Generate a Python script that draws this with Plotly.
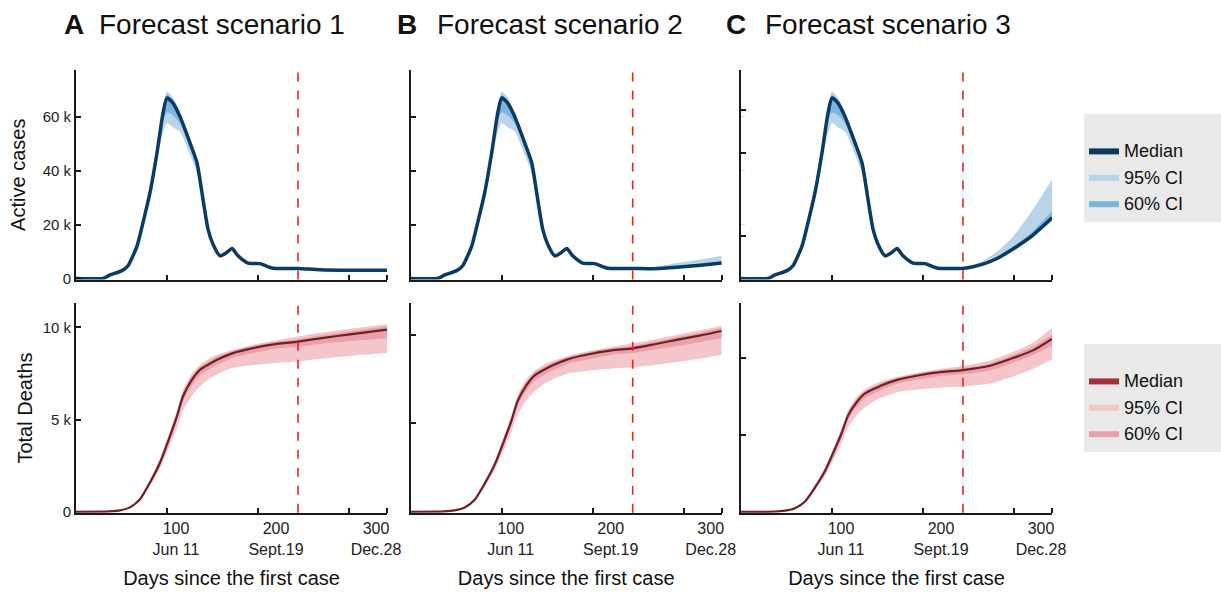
import plotly.graph_objects as go

# ------------------------------------------------------------------ data
# Active cases (thousands) - shared history up to the forecast date
days_active_hist = [0, 27, 34, 46, 52, 61, 67, 74, 81, 87, 91, 97, 104, 114, 121,
                    127, 132, 137, 144, 151, 156, 162, 172, 184, 191, 197, 210, 222]
active_med_hist = [0, 0, 1.3, 2.9, 4.7, 12, 20.7, 31.8, 46.6, 61.3, 66.9, 65, 60, 50.3, 42.9,
                   29.3, 18.3, 12.7, 8.4, 9.7, 11.1, 8.4, 5.7, 5.5, 4.5, 3.8, 3.7, 3.7]
active_lo95_hist = [0, 0, 1.2, 2.7, 4.4, 11.2, 19.5, 30, 44, 54, 57.6, 56, 54.5, 45.9, 39,
                    26.8, 16.8, 11.7, 7.7, 9.0, 10.2, 7.9, 5.4, 5.3, 4.3, 3.6, 3.5, 3.5]
active_hi95_hist = [0, 0, 1.4, 3.1, 5.0, 12.6, 21.6, 33, 48, 64, 69.3, 67, 61.5, 51.2, 43.6,
                    29.9, 18.8, 13.1, 8.8, 10.1, 11.6, 8.8, 6.0, 5.7, 4.7, 4.0, 3.9, 3.9]
active_lo60_hist = [0, 0, 1.25, 2.8, 4.6, 11.7, 20.2, 31, 45.5, 58, 61.5, 60.5, 57.5, 48.5, 41.2,
                    28.2, 17.6, 12.2, 8.1, 9.4, 10.7, 8.2, 5.6, 5.4, 4.4, 3.7, 3.6, 3.6]
active_hi60_hist = [0, 0, 1.35, 3.0, 4.85, 12.3, 21.1, 32.5, 47.2, 62.3, 68, 66, 60.8, 50.8, 43.3,
                    29.6, 18.5, 12.9, 8.6, 9.9, 11.3, 8.6, 5.8, 5.6, 4.6, 3.9, 3.8, 3.8]

# Active cases forecasts (thousands), start at the forecast date
days_active_fc = {
    1: [222, 244, 274, 311],
    2: [222, 244, 266, 290, 311],
    3: [222, 242, 256, 272, 289, 311],
}
active_med_fc = {1: [3.7, 3.2, 3.0, 3.0],
                 2: [3.7, 3.6, 4.1, 4.9, 5.7],
                 3: [3.6, 5.3, 7.4, 10.9, 15.2, 22.5]}
active_lo95_fc = {1: [3.5, 3.0, 2.7, 2.6],
                  2: [3.5, 3.4, 3.8, 4.5, 5.2],
                  3: [3.4, 5.0, 7.0, 10.3, 14.4, 21.3]}
active_hi95_fc = {1: [3.9, 3.5, 3.4, 3.5],
                  2: [3.9, 4.3, 5.7, 7.0, 8.4],
                  3: [3.8, 6.5, 10.0, 15.5, 24.0, 36.7]}
active_lo60_fc = {1: [3.6, 3.1, 2.85, 2.8],
                  2: [3.6, 3.5, 4.0, 4.7, 5.5],
                  3: [3.5, 5.2, 7.2, 10.6, 14.8, 21.8]}
active_hi60_fc = {1: [3.8, 3.35, 3.2, 3.2],
                  2: [3.8, 3.8, 4.5, 5.4, 6.3],
                  3: [3.7, 5.6, 8.0, 11.8, 16.5, 25.0]}

# Total deaths (thousands) - shared history
days_deaths_hist = [0, 34, 44, 54, 64, 74, 84, 94, 101, 107, 116, 124, 133, 141, 157, 177, 201, 222]
deaths_med_hist = [0, 0.02, 0.08, 0.24, 0.68, 1.59, 2.66, 4.1, 5.18, 6.26, 7.16, 7.7, 8.0, 8.24,
                   8.6, 8.87, 9.1, 9.22]
deaths_lo95_hist = [0, 0.02, 0.07, 0.2, 0.58, 1.4, 2.35, 3.6, 4.55, 5.5, 6.3, 6.8, 7.2, 7.45,
                    7.8, 7.95, 8.08, 8.15]
deaths_hi95_hist = [0, 0.03, 0.1, 0.28, 0.78, 1.75, 2.9, 4.4, 5.5, 6.6, 7.5, 7.97, 8.3, 8.5,
                    8.78, 9.05, 9.3, 9.5]
deaths_lo60_hist = [0, 0.02, 0.075, 0.22, 0.64, 1.5, 2.55, 3.9, 4.95, 6.0, 6.85, 7.4, 7.7, 7.95,
                    8.35, 8.6, 8.85, 8.95]
deaths_hi60_hist = [0, 0.025, 0.09, 0.26, 0.73, 1.68, 2.8, 4.28, 5.35, 6.45, 7.35, 7.85, 8.15,
                    8.4, 8.72, 9.0, 9.22, 9.35]

days_deaths_fc = {1: [222, 244, 274, 311],
                  2: [222, 244, 266, 290, 311],
                  3: [222, 249, 272, 292, 311]}
deaths_med_fc = {1: [9.22, 9.4, 9.62, 9.87],
                 2: [9.25, 9.45, 9.7, 9.95, 10.2],
                 3: [9.25, 9.5, 10.0, 10.5, 11.25]}
deaths_lo95_fc = {1: [8.15, 8.3, 8.45, 8.6],
                  2: [8.1, 8.28, 8.45, 8.65, 8.86],
                  3: [8.17, 8.35, 8.8, 9.3, 9.9]}
deaths_hi95_fc = {1: [9.5, 9.7, 9.92, 10.18],
                  2: [9.5, 9.72, 9.98, 10.25, 10.5],
                  3: [9.57, 9.85, 10.4, 11.0, 11.95]}
deaths_lo60_fc = {1: [8.95, 9.1, 9.25, 9.4],
                  2: [8.95, 9.15, 9.35, 9.58, 9.8],
                  3: [9.0, 9.2, 9.7, 10.2, 10.8]}
deaths_hi60_fc = {1: [9.35, 9.55, 9.78, 10.05],
                  2: [9.38, 9.6, 9.85, 10.12, 10.38],
                  3: [9.4, 9.65, 10.2, 10.75, 11.5]}

forecast_day = 222
x_range = [0, 311]
x_tick_vals = [100, 200, 300]
x_tick_text = ["100<br>Jun 11", "200<br>Sept.19", "300<br>Dec.28"]
x_mark_vals = [91, 182, 273, 311]

active_range = [-0.4, 77.3]
active_tick_vals = [20, 40, 60]
active_tick_text = ["20 k", "40 k", "60 k"]
active_tick_vals_c = [15.6, 46.6, 62.5]

deaths_ranges = {1: [-0.05, 11.3], 2: [-0.05, 11.76], 3: [-0.05, 13.56]}
deaths_tick_vals = [5, 10]
deaths_tick_text = ["5 k", "10 k"]

scenario_letters = ["A", "B", "C"]
scenario_titles = ["Forecast scenario 1", "Forecast scenario 2", "Forecast scenario 3"]
legend_names = ["Median", "95% CI", "60% CI"]

# ------------------------------------------------------------------ style
FONT = "Liberation Sans, Arial, sans-serif"
BLUE_MED = "#0b3a63"
BLUE_95 = "#b9d4e9"
BLUE_60 = "#7db5de"
RED_MED_LINE = "#6e1f27"
RED_MED_SWATCH = "#a3323d"
RED_95 = "#f4c5ca"
RED_60 = "#e8a1a9"

col_x = [(76, 387), (410.7, 721.7), (741, 1052)]
row_y = [(70, 279.5), (303.3, 512.7)]
letter_x = [62, 395, 724]
title_x = [97, 435, 763]
W, H = 1221, 592


def xdom(i):
    return [col_x[i][0] / W, col_x[i][1] / W]


def ydom(r):
    return [1 - row_y[r][1] / H, 1 - row_y[r][0] / H]


fig = go.Figure()


def add_panel(xa, ya, lg, xs, lo95, hi95, lo60, hi60, med, c95, c60, cmed, lw):
    common = dict(xaxis=xa, yaxis=ya, legend=lg, showlegend=False, hoverinfo="skip", mode="lines")
    fig.add_trace(go.Scatter(x=xs, y=lo95, line=dict(width=0, shape="spline", smoothing=0.6), **common))
    fig.add_trace(go.Scatter(x=xs, y=hi95, line=dict(width=0, shape="spline", smoothing=0.6),
                             fill="tonexty", fillcolor=c95, **common))
    fig.add_trace(go.Scatter(x=xs, y=lo60, line=dict(width=0, shape="spline", smoothing=0.6), **common))
    fig.add_trace(go.Scatter(x=xs, y=hi60, line=dict(width=0, shape="spline", smoothing=0.6),
                             fill="tonexty", fillcolor=c60, **common))
    fig.add_trace(go.Scatter(x=xs, y=med, line=dict(width=lw, color=cmed, shape="spline", smoothing=0.6),
                             **common))


for k, s in enumerate([1, 2, 3]):
    xs = days_active_hist + days_active_fc[s][1:]
    add_panel("x" if k == 0 else f"x{k+1}", "y" if k == 0 else f"y{k+1}", "legend", xs,
              active_lo95_hist + active_lo95_fc[s][1:], active_hi95_hist + active_hi95_fc[s][1:],
              active_lo60_hist + active_lo60_fc[s][1:], active_hi60_hist + active_hi60_fc[s][1:],
              active_med_hist + active_med_fc[s][1:], BLUE_95, BLUE_60, BLUE_MED, 3.5)
    xs = days_deaths_hist + days_deaths_fc[s][1:]
    add_panel(f"x{k+4}", f"y{k+4}", "legend2", xs,
              deaths_lo95_hist + deaths_lo95_fc[s][1:], deaths_hi95_hist + deaths_hi95_fc[s][1:],
              deaths_lo60_hist + deaths_lo60_fc[s][1:], deaths_hi60_hist + deaths_hi60_fc[s][1:],
              deaths_med_hist + deaths_med_fc[s][1:], RED_95, RED_60, RED_MED_LINE, 2.2)

PAD = "&nbsp;" * 7
# legend-only entries (filled swatches)
for name, col, rank in zip(legend_names, [BLUE_MED, BLUE_95, BLUE_60], [1, 2, 3]):
    fig.add_trace(go.Scatter(x=[None], y=[None], mode="lines", name=name + PAD, fill="toself",
                             fillcolor=col, line=dict(width=0, color=col), legend="legend",
                             legendrank=rank, xaxis="x", yaxis="y"))
for name, col, rank in zip(legend_names, [RED_MED_SWATCH, RED_95, RED_60], [1, 2, 3]):
    fig.add_trace(go.Scatter(x=[None], y=[None], mode="lines", name=name + PAD, fill="toself",
                             fillcolor=col, line=dict(width=0, color=col), legend="legend2",
                             legendrank=rank, xaxis="x4", yaxis="y4"))

axis_common = dict(showline=True, linecolor="#1a1a1a", linewidth=2, showgrid=False, zeroline=False,
                   mirror=False, automargin=False, tickfont=dict(family=FONT, size=15, color="#222"))

layout = dict(width=W, height=H, margin=dict(l=0, r=0, t=0, b=0, autoexpand=False),
              paper_bgcolor="white", plot_bgcolor="white", font=dict(family=FONT, color="#111"))

for k in range(3):
    n_top = "" if k == 0 else str(k + 1)
    n_bot = str(k + 4)
    for n, row in [(n_top, 0), (n_bot, 1)]:
        xa = dict(axis_common, domain=xdom(k), range=x_range, anchor="y" + n,
                  tickmode="array", tickvals=x_tick_vals,
                  ticktext=x_tick_text if row == 1 else ["", "", ""],
                  ticks="", tickfont=dict(family=FONT, size=16, color="#222"),
                  minor=dict(tickmode="array", tickvals=x_mark_vals, ticks="inside", ticklen=5,
                             tickwidth=2, tickcolor="#1a1a1a"))
        if row == 1:
            xa["title"] = dict(text="Days since the first case", font=dict(family=FONT, size=20, color="#111"),
                               standoff=14)
        layout["xaxis" + n] = xa
    ya = dict(axis_common, domain=ydom(0), range=active_range, anchor="x" + n_top,
              ticks="inside", ticklen=5, tickwidth=2, tickcolor="#1a1a1a")
    if k == 0:
        ya.update(tickmode="array", tickvals=[0] + active_tick_vals, ticktext=["0"] + active_tick_text,
                  showticklabels=True)
        ya["title"] = dict(text="Active cases", font=dict(family=FONT, size=20, color="#111"), standoff=12)
    elif k == 1:
        ya.update(tickmode="array", tickvals=active_tick_vals, showticklabels=False)
    else:
        ya.update(tickmode="array", tickvals=active_tick_vals_c, showticklabels=False,
                  minor=dict(tickmode="array", tickvals=active_tick_vals, ticks="inside", ticklen=4,
                             tickwidth=1, tickcolor="#dddddd"))
    layout["yaxis" + n_top] = ya
    yb = dict(axis_common, domain=ydom(1), range=deaths_ranges[k + 1], anchor="x" + n_bot,
              ticks="inside", ticklen=5, tickwidth=2, tickcolor="#1a1a1a",
              tickmode="array", tickvals=deaths_tick_vals)
    if k == 0:
        yb.update(tickvals=[0] + deaths_tick_vals, ticktext=["0"] + deaths_tick_text)
        yb["title"] = dict(text="Total Deaths", font=dict(family=FONT, size=20, color="#111"), standoff=5)
    else:
        yb.update(showticklabels=False)
    layout["yaxis" + n_bot] = yb

legend_common = dict(bgcolor="#e9e9e9", borderwidth=0, font=dict(family=FONT, size=18, color="#111"),
                     xanchor="left", yanchor="top", x=1084 / W, itemclick=False, itemdoubleclick=False,
                     traceorder="normal", tracegroupgap=0,
                     title=dict(text=" ", font=dict(size=14)))
layout["legend"] = dict(legend_common, y=1 - 114 / H)
layout["legend2"] = dict(legend_common, y=1 - 344 / H)

fig.update_layout(**layout)

for k in range(6):
    n = "" if k == 0 else str(k + 1)
    fig.add_shape(type="line", xref="x" + n, yref=("y" + n) + " domain", x0=forecast_day, x1=forecast_day,
                  y0=0, y1=1, line=dict(color="#ee2222", width=1.6, dash="dash"), layer="above")

for k in range(3):
    fig.add_annotation(text=f"<b>{scenario_letters[k]}</b>", xref="paper", yref="paper",
                       x=letter_x[k] / W, y=1 - 25 / H, xanchor="left", yanchor="middle", showarrow=False,
                       font=dict(family=FONT, size=28, color="#111"))
    fig.add_annotation(text=scenario_titles[k], xref="paper", yref="paper",
                       x=title_x[k] / W, y=1 - 25 / H, xanchor="left", yanchor="middle", showarrow=False,
                       font=dict(family=FONT, size=28, color="#111"))

fig.write_html("out.html", config={"displayModeBar": False},
               post_script="document.body.style.margin='0px';")
